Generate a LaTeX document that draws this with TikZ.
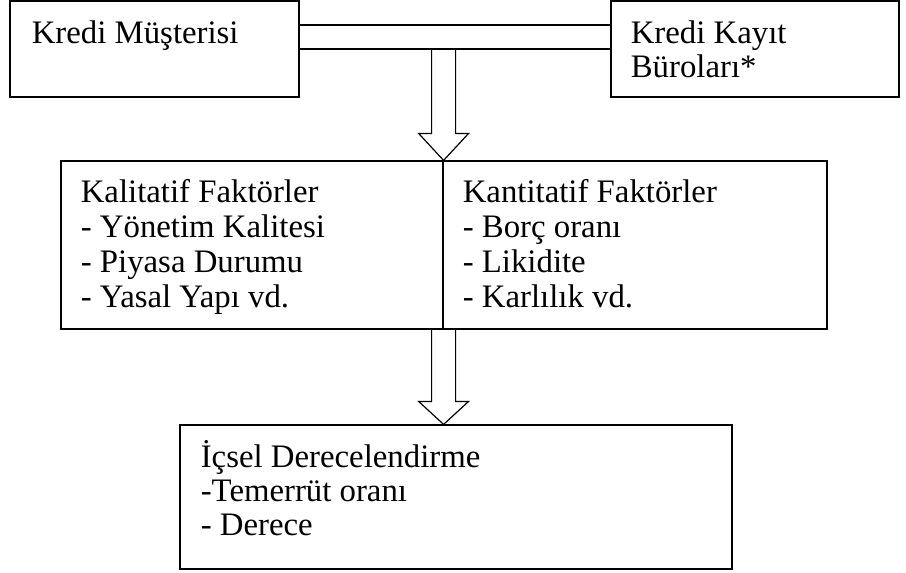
\documentclass[tikz,border=0pt]{standalone}
\usepackage{fontspec}
\setmainfont{Liberation Serif}
\usetikzlibrary{calc}

% hollow block arrow: from the y of #1 down to the tip #2, head length #3
\newcommand{\kalinok}[3]{%
    \draw[ok] let \p1=(#1), \p2=(#2) in
        (\x2-6pt,\y1) -- (\x2-6pt,\y2+#3) -- (\x2-12.5pt,\y2+#3) -- (\x2,\y2)
        -- (\x2+12.5pt,\y2+#3) -- (\x2+6pt,\y2+#3) -- (\x2+6pt,\y1);}

\begin{document}
\begin{tikzpicture}[x=0.5pt, y=-0.5pt,
        kutu/.style={
            % The shape:
            rectangle,
            % The border
            draw=black,
            line width=0.6pt,
            inner sep=0pt
        },
        metin/.style={
            anchor=base west,
            inner sep=0pt,
            % Font
            font=\fontsize{16.4}{19}\selectfont
        },
        boru/.style={draw=black, line width=0.6pt, double=white, double distance=11.4pt},
        ok/.style={line width=0.6pt, line join=miter}]

    \useasboundingbox (0,0) rectangle (906,573);

    % the boxes
    \node [kutu, minimum width=144.5pt, minimum height=48pt] (musteri) at (154.5,49) {};
    \node [kutu, minimum width=144pt, minimum height=48pt] (buro) at (755,49) {};
    \node [kutu, minimum width=191pt, minimum height=84pt] (kalitatif) at (252,245) {};
    \node [kutu, minimum width=192pt, minimum height=84pt] (kantitatif) at (635,245) {};
    \node [kutu, minimum width=276pt, minimum height=72pt] (derece) at (456,497) {};

    % the texts
    \node [metin] (musterimetin) at ($(musteri.north west)+(22,43)$) {Kredi Müşterisi};

    \foreach \i/\satir in {0/Kredi Kayıt, 1/Büroları*}
    {
        \node [metin] (buro\i) at ($(buro.north west)+(20,43+34*\i)$) {\satir};
    }

    \foreach \i/\satir in {0/Kalitatif Faktörler, 1/- Yönetim Kalitesi, 2/- Piyasa Durumu, 3/- Yasal Yapı vd.}
    {
        \node [metin] (kal\i) at ($(kalitatif.north west)+(20,42+35*\i)$) {\satir};
    }

    \foreach \i/\satir in {0/Kantitatif Faktörler, 1/- Borç oranı, 2/- Likidite, 3/- Karlılık vd.}
    {
        \node [metin] (kan\i) at ($(kantitatif.north west)+(20,42+35*\i)$) {\satir};
    }

    \foreach \i/\satir in {0/İçsel Derecelendirme, 1/-Temerrüt oranı, 2/- Derece}
    {
        \node [metin] (der\i) at ($(derece.north west)+(21,43+34*\i)$) {\satir};
    }

    % the connectors
    \draw [boru] ($(musteri.east)+(0,-12)$) -- ($(buro.west)+(0,-12)$);
    \kalinok{musteri.east}{kalitatif.north east}{13.5pt}
    \kalinok{kalitatif.south east}{kalitatif.south east |- derece.north}{11.5pt}

\end{tikzpicture}
\end{document}
